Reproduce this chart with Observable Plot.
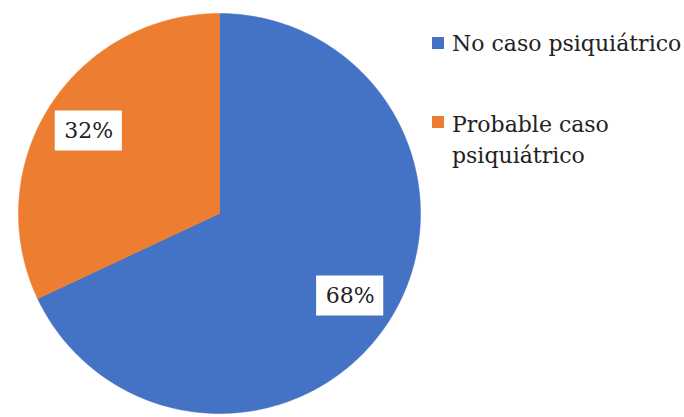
<!DOCTYPE html>
<html>
<head>
<meta charset="utf-8">
<script src="https://cdn.jsdelivr.net/npm/d3@7"></script>
<script src="https://cdn.jsdelivr.net/npm/@observablehq/plot@0.6"></script>
<style>
  html, body { margin: 0; padding: 0; background: #fff; }
  #wrap { position: relative; width: 684px; height: 417px; overflow: hidden; }
  #wrap svg { position: absolute; left: 0; top: 0; }
  .leg { position: absolute; font-family: "DejaVu Serif", serif; font-size: 22px; line-height: 31px; color: #222; }
  .sw { position: absolute; width: 12px; height: 12px; }
</style>
</head>
<body>
<div id="wrap"></div>
<script>
// Data
const categories = ["No caso psiquiátrico", "Probable caso psiquiátrico"];
const values = [68, 32];
const colors = ["#4472C4", "#ED7D31"];
const labels = ["68%", "32%"];

const total = d3.sum(values);
// Slice polygons, angles clockwise from 12 o'clock
const polys = [];
const labelPts = [];
let acc = 0;
values.forEach((v, i) => {
  const a0 = acc / total * 2 * Math.PI;
  acc += v;
  const a1 = acc / total * 2 * Math.PI;
  const n = Math.max(2, Math.ceil((a1 - a0) / (Math.PI / 180)));
  polys.push({cat: categories[i], x: 0, y: 0});
  for (let j = 0; j <= n; j++) {
    const a = a0 + (a1 - a0) * j / n;
    polys.push({cat: categories[i], x: Math.sin(a), y: Math.cos(a)});
  }
  polys.push({cat: categories[i], x: 0, y: 0});
  const am = (a0 + a1) / 2;
  labelPts.push({cat: categories[i], label: labels[i], x: 0.77 * Math.sin(am), y: 0.77 * Math.cos(am)});
});

const serif = "DejaVu Serif";
const bw = 0.167, bh = 0.1;
const chart = Plot.plot({
  width: 684,
  height: 417,
  margin: 0,
  x: {domain: [-1, 1], range: [18, 420], axis: null},
  y: {domain: [-1, 1], range: [413, 13], axis: null},
  color: {domain: categories, range: colors},
  style: {background: "transparent"},
  marks: [
    Plot.line(polys, {x: "x", y: "y", z: "cat", fill: "cat", stroke: "cat", strokeWidth: 0.5, curve: "linear"}),
    Plot.rect(labelPts, {x1: d => d.x - bw, x2: d => d.x + bw, y1: d => d.y - bh, y2: d => d.y + bh, fill: "white"}),
    Plot.text(labelPts, {x: "x", y: "y", text: "label", fontFamily: serif, fontSize: 22, fill: "#222", textAnchor: "middle", lineAnchor: "middle"})
  ]
});

const wrap = document.getElementById("wrap");
wrap.appendChild(chart);

// Legend
const legTops = [28, 109];
const swTops = [37, 116];
categories.forEach((c, i) => {
  const sw = document.createElement("div");
  sw.className = "sw";
  sw.style.left = "432px";
  sw.style.top = swTops[i] + "px";
  sw.style.background = colors[i];
  wrap.appendChild(sw);
  const t = document.createElement("div");
  t.className = "leg";
  t.style.left = "452px";
  t.style.top = legTops[i] + "px";
  t.style.width = i === 0 ? "232px" : "180px";
  if (i === 0) t.style.whiteSpace = "nowrap";
  t.textContent = c;
  wrap.appendChild(t);
});
</script>
</body>
</html>
